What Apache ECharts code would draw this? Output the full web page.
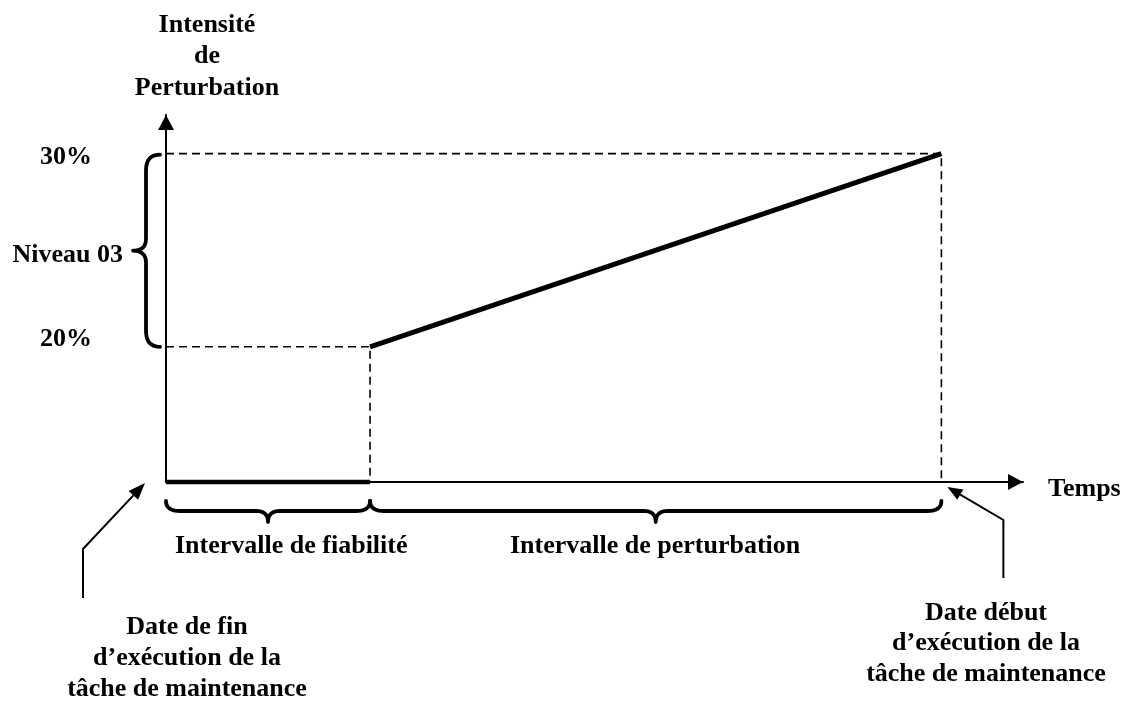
<!DOCTYPE html>
<html>
<head>
<meta charset="utf-8">
<script src="https://cdn.jsdelivr.net/npm/echarts@6/dist/echarts.min.js"></script>
<style>
  html, body { margin: 0; padding: 0; background: #fff; }
  #chart { width: 1128px; height: 701px; }
</style>
</head>
<body>
<div id="chart"></div>
<script>
// Repères temporels (unités arbitraires) :
// fin d'exécution de la tâche, fin de l'intervalle de fiabilité, début d'exécution de la tâche
const tempsRepere = [0, 10, 38];
const bornesTemps = [0, 42];

// Intensité de perturbation (%) : bornes du niveau 03
const niveau03 = [20, 30];
// Axe tronqué : sa base représente une intensité nulle
const bornesIntensite = [13, 32];
const etiquettesIntensite = ['20%', '30%'];

const titresAxes = ['Intensité', 'de', 'Perturbation'];
const nomTemps = 'Temps';
const nomNiveau = 'Niveau 03';
const intervalles = ['Intervalle de fiabilité', 'Intervalle de perturbation'];
const dateFin = ['Date de fin', 'd\u2019exécution de la', 'tâche de maintenance'];
const dateDebut = ['Date début', 'd\u2019exécution de la', 'tâche de maintenance'];

const FAMILY = '"Liberation Serif", "Times New Roman", serif';
const FONT = 'bold 26px ' + FAMILY;
const base = bornesIntensite[0];
const [t0, t1, t2] = tempsRepere;

const chart = echarts.init(document.getElementById('chart'), null, { renderer: 'canvas' });

const axisLine = (sym) => ({
  show: true,
  onZero: false,
  lineStyle: { color: '#000', width: 2 },
  symbol: ['none', 'triangle'],
  symbolSize: sym,
  symbolOffset: [0, -7.5]
});

const guide = (data) => ({
  type: 'line', data, symbol: 'none', silent: true, clip: false, z: 2,
  lineStyle: { color: '#000', width: 1.6, type: [8, 5] }
});

const labelStyle = (pad) => ({
  fontFamily: FAMILY, fontSize: 26, fontWeight: 'bold', color: '#000', padding: pad
});

chart.setOption({
  animation: false,
  backgroundColor: '#fff',
  grid: { left: 166, top: 115, width: 857, height: 367 },
  xAxis: {
    type: 'value', min: bornesTemps[0], max: bornesTemps[1],
    axisLine: axisLine([16, 15]),
    axisTick: { show: false }, axisLabel: { show: false }, splitLine: { show: false }
  },
  yAxis: {
    type: 'value', min: bornesIntensite[0], max: bornesIntensite[1],
    axisLine: axisLine([16, 15]),
    axisTick: { show: false }, splitLine: { show: false },
    axisLabel: {
      customValues: niveau03,
      margin: 74,
      fontFamily: FAMILY, fontSize: 26, fontWeight: 'bold', color: '#000',
      formatter: (v) => (v === niveau03[0] ? '{bas|' + etiquettesIntensite[0] + '}' : '{haut|' + etiquettesIntensite[1] + '}'),
      rich: {
        bas: labelStyle([0, 0, 16, 0]),
        haut: labelStyle([8, 0, 0, 0])
      }
    }
  },
  series: [
    guide([[t0, niveau03[1]], [t2, niveau03[1]], [t2, base]]),
    guide([[t0, niveau03[0]], [t1, niveau03[0]], [t1, base]]),
    {
      name: intervalles[0], type: 'line', symbol: 'none', silent: true, clip: false, z: 5,
      data: [[t0, base], [t1, base]],
      lineStyle: { color: '#000', width: 4.5, cap: 'butt' }
    },
    {
      name: intervalles[1], type: 'line', symbol: 'none', silent: true, clip: false, z: 5,
      data: [[t1, niveau03[0]], [t2, niveau03[1]]],
      lineStyle: { color: '#000', width: 5, cap: 'butt' }
    }
  ]
});

// Annotations : accolades, flèches et textes, placés d'après les repères du graphique
const px = (x, y) => chart.convertToPixel({ gridIndex: 0 }, [x, y]);
const [ox, oy] = px(t0, base);
const x1 = px(t1, base)[0];
const x2 = px(t2, base)[0];
const yHaut = px(t0, niveau03[1])[1];
const yBas = px(t0, niveau03[0])[1];

const txt = (text, x, y, align) => ({
  type: 'text', x, y, silent: true, z: 10,
  style: { text, fill: '#000', font: FONT, textAlign: align || 'center', textVerticalAlign: 'middle' }
});

// courbe de Bézier quadratique échantillonnée
function quad(p0, c, p1, out) {
  for (let i = 1; i <= 10; i++) {
    const t = i / 10, u = 1 - t;
    out.push([u * u * p0[0] + 2 * u * t * c[0] + t * t * p1[0], u * u * p0[1] + 2 * u * t * c[1] + t * t * p1[1]]);
  }
}
// accolade verticale ouverte vers la droite, pointe à gauche
function accoladeV(xEnd, xSpine, xTip, yA, yB, r, rt) {
  const ym = (yA + yB) / 2;
  const p = [[xEnd, yA]];
  quad([xEnd, yA], [xSpine, yA], [xSpine, yA + r], p);
  p.push([xSpine, ym - rt]);
  quad([xSpine, ym - rt], [xSpine, ym], [xTip, ym], p);
  quad([xTip, ym], [xSpine, ym], [xSpine, ym + rt], p);
  p.push([xSpine, yB - r]);
  quad([xSpine, yB - r], [xSpine, yB], [xEnd, yB], p);
  return p;
}
// accolade horizontale ouverte vers le haut, pointe en bas
function accoladeH(yEnd, ySpine, yTip, xA, xB, r, rt) {
  const xm = (xA + xB) / 2;
  const p = [[xA, yEnd]];
  quad([xA, yEnd], [xA, ySpine], [xA + r, ySpine], p);
  p.push([xm - rt, ySpine]);
  quad([xm - rt, ySpine], [xm, ySpine], [xm, yTip], p);
  quad([xm, yTip], [xm, ySpine], [xm + rt, ySpine], p);
  p.push([xB - r, ySpine]);
  quad([xB - r, ySpine], [xB, ySpine], [xB, yEnd], p);
  return p;
}
const brace = (points) => ({
  type: 'polyline', silent: true, z: 10,
  shape: { points },
  style: { stroke: '#000', lineWidth: 3.8, fill: null, lineCap: 'round', lineJoin: 'round' }
});

function fleche(points, len, wid) {
  const n = points.length;
  const [tx, ty] = points[n - 1];
  const [sx, sy] = points[n - 2];
  const L = Math.hypot(tx - sx, ty - sy);
  const ux = (tx - sx) / L, uy = (ty - sy) / L;
  const bx = tx - ux * len, by = ty - uy * len;
  const shaft = points.slice(0, n - 1).concat([[bx, by]]);
  return [
    { type: 'polyline', silent: true, z: 10, shape: { points: shaft },
      style: { stroke: '#000', lineWidth: 2, fill: null } },
    { type: 'polygon', silent: true, z: 10,
      shape: { points: [[tx, ty], [bx - uy * wid / 2, by + ux * wid / 2], [bx + uy * wid / 2, by - ux * wid / 2]] },
      style: { fill: '#000', stroke: null } }
  ];
}

const graphics = [
  txt(titresAxes[0], ox + 41, 25),
  txt(titresAxes[1], ox + 41, 56),
  txt(titresAxes[2], ox + 41, 88),
  txt(nomNiveau, 123, (yHaut + yBas) / 2 + 5, 'right'),
  txt(nomTemps, 1048, oy + 7, 'left'),
  txt(intervalles[0], 175, 546, 'left'),
  txt(intervalles[1], 510, 546, 'left'),
  brace(accoladeV(160, 146, 133, yHaut + 1, yBas, 16, 12)),
  brace(accoladeH(oy + 19, oy + 29, oy + 40, ox, x1, 14, 12)),
  brace(accoladeH(oy + 19, oy + 29, oy + 40, x1, x2, 14, 12))
];
dateFin.forEach((s, i) => graphics.push(txt(s, 187, 627 + i * 31)));
dateDebut.forEach((s, i) => graphics.push(txt(s, 986, 613 + i * 30.5)));
graphics.push(...fleche([[83, 598], [83, 549], [ox - 21, oy + 1]], 17, 13));
graphics.push(...fleche([[x2 + 62, 578], [x2 + 62, 520], [x2 + 6, oy + 5]], 15, 12));

chart.setOption({ graphic: graphics });
</script>
</body>
</html>
